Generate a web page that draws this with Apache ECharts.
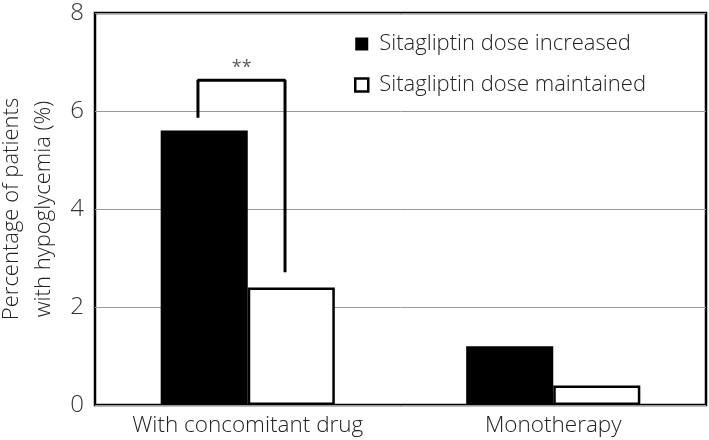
<!DOCTYPE html>
<html><head><meta charset="utf-8">
<script src="https://cdn.jsdelivr.net/npm/echarts@6/dist/echarts.min.js"></script>
<style>html,body{margin:0;padding:0;background:#fff}#c{width:709px;height:440px}</style>
</head><body><div id="c"></div>
<script>
const categories = ["With concomitant drug", "Monotherapy"];
const increased = [5.6, 1.2];
const maintained = [2.4, 0.4];
const yTicks = [0, 2, 4, 6, 8];
const bracketPts = [[0.337, 5.86], [0.337, 6.63], [0.622, 6.63], [0.622, 2.71]];
const starPt = [[0.48, 6.63]];
const font = '"Open Sans", "Noto Sans", sans-serif';
const fw = 300;
const chart = echarts.init(document.getElementById('c'));
chart.setOption({
  animation: false,
  grid: { left: 95, right: 3, top: 13, bottom: 35, show: true, borderColor: '#000', borderWidth: 2.5, backgroundColor: 'transparent', containLabel: false, outerBoundsMode: 'none' },
  legend: {
    orient: 'vertical', left: 349, top: 28, itemWidth: 13, itemHeight: 13, itemGap: 19,
    textStyle: { fontFamily: font, fontWeight: fw, fontSize: 22, color: '#222', padding: [0,0,0,6] },
    data: [
      { name: 'Sitagliptin dose increased', icon: 'rect', itemStyle: { color: '#000', borderWidth: 0 } },
      { name: 'Sitagliptin dose maintained', icon: 'rect', itemStyle: { color: '#fff', borderColor: '#000', borderWidth: 2.5 } }
    ]
  },
  xAxis: [
    { type: 'category', data: categories, axisTick: { show: false }, axisLine: { show: false },
      axisLabel: { fontFamily: font, fontWeight: fw, fontSize: 22.5, color: '#222', margin: 9 } },
    { type: 'value', min: 0, max: 2, show: false }
  ],
  yAxis: {
    type: 'value', min: 0, max: 8, interval: 2,
    axisLine: { show: false }, axisTick: { show: false },
    splitLine: { lineStyle: { color: '#999', width: 1 } },
    axisLabel: { fontFamily: font, fontWeight: fw, fontSize: 24, color: '#333', margin: 11, formatter: v => yTicks.includes(v) ? String(v) : '' },
    name: 'Percentage of patients\nwith hypoglycemia (%)', nameLocation: 'middle', nameGap: 27, nameRotate: 90,
    nameTextStyle: { fontFamily: font, fontWeight: fw, fontSize: 22, color: '#222', lineHeight: 32 }
  },
  series: [
    { name: 'Sitagliptin dose increased', type: 'bar', data: increased, barWidth: '28.5%', barGap: '0%',
      itemStyle: { color: '#000' } },
    { name: 'Sitagliptin dose maintained', type: 'bar', data: maintained, barWidth: '28.5%',
      itemStyle: { color: '#fff', borderColor: '#000', borderWidth: 2.5 } },
    { type: 'line', xAxisIndex: 1, data: bracketPts, symbol: 'none', lineStyle: { color: '#000', width: 3 }, z: 5 },
    { type: 'scatter', xAxisIndex: 1, data: starPt, symbolSize: 0,
      label: { show: true, position: 'top', distance: 3, formatter: '**', fontFamily: font, fontSize: 18, color: '#333' } }
  ]
});
</script></body></html>
